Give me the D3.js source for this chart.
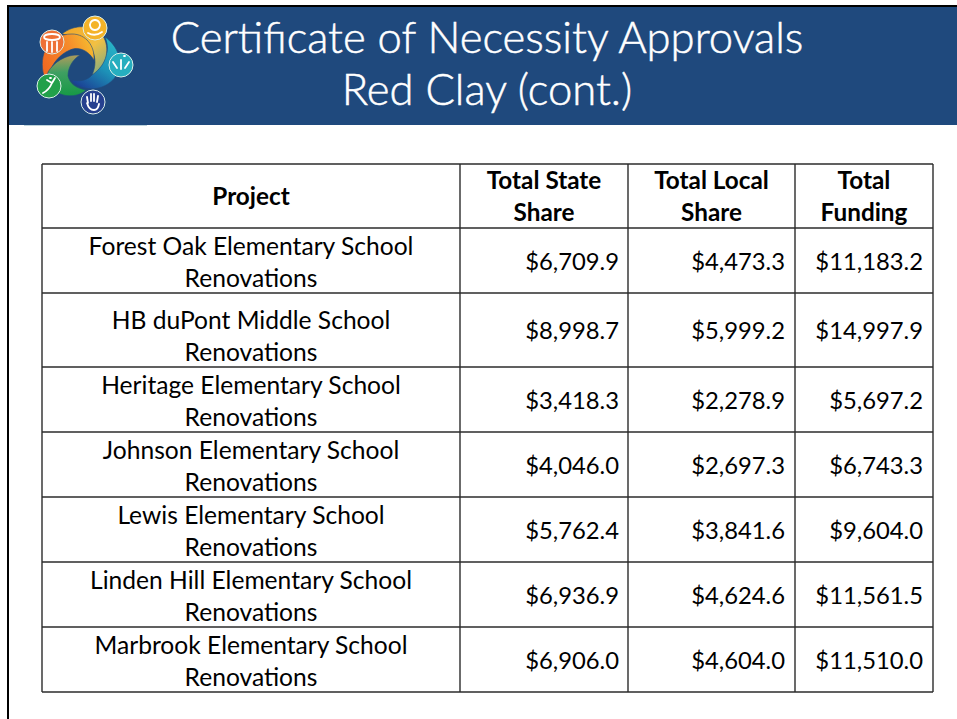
<!DOCTYPE html>
<html>
<head>
<meta charset="utf-8">
<title>Certificate of Necessity Approvals</title>
<script src="https://cdn.jsdelivr.net/npm/d3@7"></script>
<style>
html, body { margin: 0; padding: 0; background: #fff; }
svg { display: block; }
text { font-family: Lato, "Open Sans", sans-serif; fill: #000; }
</style>
</head>
<body>
<svg id="viz"></svg>
<script>
var width = 957;
var height = 719;

var titleLines = ["Certificate of Necessity Approvals", "Red Clay (cont.)"];
var headers = [["Project"], ["Total State", "Share"], ["Total Local", "Share"], ["Total", "Funding"]];
var projects = [
    ["Forest Oak Elementary School", "Renovations"],
    ["HB duPont Middle School", "Renovations"],
    ["Heritage Elementary School", "Renovations"],
    ["Johnson Elementary School", "Renovations"],
    ["Lewis Elementary School", "Renovations"],
    ["Linden Hill Elementary School", "Renovations"],
    ["Marbrook Elementary School", "Renovations"]
];
var stateShare = [6709.9, 8998.7, 3418.3, 4046.0, 5762.4, 6936.9, 6906.0];
var localShare = [4473.3, 5999.2, 2278.9, 2697.3, 3841.6, 4624.6, 4604.0];
var totalFunding = [11183.2, 14997.9, 5697.2, 6743.3, 9604.0, 11561.5, 11510.0];

var money = d3.format("$,.1f");

// table grid edges
var colX = d3.scaleOrdinal().domain([0, 1, 2, 3, 4]).range([42, 460, 628, 795, 933]);
var rowY = d3.scaleOrdinal().domain(d3.range(9)).range([164, 228, 293, 367, 432, 497, 562, 627, 692]);

var svg = d3.select("#viz").attr("width", width).attr("height", height);
var defs = svg.append("defs");

function addGradient(id, x1, y1, x2, y2, stops) {
    var g = defs.append("linearGradient").attr("id", id)
        .attr("gradientUnits", "userSpaceOnUse")
        .attr("x1", x1).attr("y1", y1).attr("x2", x2).attr("y2", y2);
    stops.forEach(function(s) {
        g.append("stop").attr("offset", s[0]).attr("stop-color", s[1]);
    });
}
addGradient("gOrange", 45, 70, 92, 50, [[0, "#f26a22"], [0.6, "#f58a2b"], [1, "#f6b52e"]]);
addGradient("gYellow", 65, 30, 98, 72, [[0, "#f3a92a"], [0.55, "#f2c043"], [1, "#8fae7a"]]);
addGradient("gTeal", 112, 40, 80, 88, [[0, "#29b5c8"], [0.5, "#1d93b8"], [1, "#1b3f94"]]);
addGradient("gGreen", 70, 52, 72, 96, [[0, "#c69a5a"], [0.45, "#3f9f62"], [1, "#169a45"]]);

// slide frame and header band
svg.append("rect").attr("x", 7).attr("y", 5).attr("width", width - 7).attr("height", height - 5).attr("fill", "#000");
svg.append("rect").attr("x", 9).attr("y", 7).attr("width", width - 9).attr("height", height - 7).attr("fill", "#fff");
svg.append("rect").attr("x", 9).attr("y", 7).attr("width", width - 9).attr("height", 118).attr("fill", "#1f497d");
svg.append("rect").attr("x", 24).attr("y", 125).attr("width", 123).attr("height", 1).attr("fill", "#bcd3dc");

svg.selectAll("text.title")
    .data(titleLines)
    .enter()
    .append("text")
    .attr("class", "title")
    .attr("x", 487)
    .attr("y", function(d, i) { return 53 + i * 52; })
    .attr("text-anchor", "middle")
    .attr("font-size", 43.6)
    .attr("font-weight", 300)
    .style("fill", "#fff")
    .style("stroke", "#fff")
    .style("stroke-width", 0.5)
    .text(function(d) { return d; });

// logo: swirl blades with round badges on top
var logo = svg.append("g");
var blades = [
    ["url(#gTeal)", "M105,37 C118,46 124,62 116,76 C108,88 92,92 78,86 C74,84 72,82 72,80 C80,82 88,80 92,75 C100,68 104,60 107,52 C108,46 107,42 105,37 Z"],
    ["url(#gYellow)", "M62,34 C74,24 92,24 103,36 C110,48 108,64 92,75 C96,66 96,58 92,50 C86,42 74,36 62,34 Z"],
    ["url(#gOrange)", "M44,76 C38,55 48,34 72,34 C86,34 95,46 94,60 C88,50 78,46 70,50 C60,54 52,64 50,72 Z"],
    ["url(#gGreen)", "M48,72 C54,62 66,54 80,55 C72,60 68,68 68,76 C70,84 76,88 86,90 C80,96 68,98 58,93 C50,88 47,80 48,72 Z"]
];
logo.selectAll("path.blade")
    .data(blades)
    .enter()
    .append("path")
    .attr("class", "blade")
    .attr("d", function(d) { return d[1]; })
    .attr("fill", function(d) { return d[0]; })
    .attr("stroke", "#1f497d")
    .attr("stroke-width", 0.6);

var badges = [
    [52, 42, "#ee7035", "M44,37 a8,3 0 0 1 16,0 a8,3 0 0 1 -16,0 M47,42 v9 M52,42 v10 M57,42 v9"],
    [95, 28, "#f4b328", "M95,20 a5,5 0 1 1 -0.1,0 M88,33 q7,4 14,-1"],
    [121, 65, "#26aebf", "M113,62 l4,6 M121,60 v9 M129,62 l-4,6 M124,56 h1"],
    [93, 102, "#26408f", "M88,103 l-1,-6 M91,101 v-7 M94,101 v-7 M97,102 l1,-6 M87,103 q2,7 7,7 q4,0 5,-6"],
    [49, 86, "#22a04a", "M43,93 q6,-3 9,-10 M50,78 h1 M52,83 l3,-5 M52,83 l-5,-3"]
];
logo.selectAll("circle.badge")
    .data(badges)
    .enter()
    .append("circle")
    .attr("class", "badge")
    .attr("cx", function(d) { return d[0]; })
    .attr("cy", function(d) { return d[1]; })
    .attr("r", 12)
    .attr("fill", function(d) { return d[2]; })
    .attr("stroke", "#dcefe9")
    .attr("stroke-width", 1);
logo.selectAll("path.glyph")
    .data(badges)
    .enter()
    .append("path")
    .attr("class", "glyph")
    .attr("d", function(d) { return d[3]; })
    .attr("fill", "none")
    .attr("stroke", "#fff")
    .attr("stroke-width", 1.8)
    .attr("stroke-linecap", "round");

// grid
var grid = svg.append("g").attr("stroke", "#2b2b2b").attr("stroke-width", 1.4);
grid.selectAll("line.v")
    .data(colX.domain())
    .enter()
    .append("line")
    .attr("class", "v")
    .attr("x1", function(d) { return colX(d); })
    .attr("x2", function(d) { return colX(d); })
    .attr("y1", rowY(0))
    .attr("y2", rowY(8));
grid.selectAll("line.h")
    .data(rowY.domain())
    .enter()
    .append("line")
    .attr("class", "h")
    .attr("y1", function(d) { return rowY(d); })
    .attr("y2", function(d) { return rowY(d); })
    .attr("x1", colX(0))
    .attr("x2", colX(4));

// header cells
var lineGap = 32;
headers.forEach(function(lines, c) {
    var cx = (colX(c) + colX(c + 1)) / 2;
    var cy = (rowY(0) + rowY(1)) / 2 + 9;
    svg.selectAll("text.head" + c)
        .data(lines)
        .enter()
        .append("text")
        .attr("class", "head" + c)
        .attr("x", cx)
        .attr("y", function(d, i) { return cy + (i - (lines.length - 1) / 2) * lineGap; })
        .attr("text-anchor", "middle")
        .attr("font-size", 24.3)
        .attr("font-weight", 700)
        .text(function(d) { return d; });
});

// project names sit on the bottom of their row (HB duPont row is taller)
projects.forEach(function(lines, r) {
    svg.selectAll("text.proj" + r)
        .data(lines)
        .enter()
        .append("text")
        .attr("class", "proj" + r)
        .attr("x", (colX(0) + colX(1)) / 2)
        .attr("y", function(d, i) { return rowY(r + 2) - 6.5 - (lines.length - 1 - i) * lineGap; })
        .attr("text-anchor", "middle")
        .attr("font-size", 24.6)
        .text(function(d) { return d; });
});

// money columns
[stateShare, localShare, totalFunding].forEach(function(values, c) {
    svg.selectAll("text.val" + c)
        .data(values)
        .enter()
        .append("text")
        .attr("class", "val" + c)
        .attr("x", colX(c + 2) - (c == 0 ? 9 : 10))
        .attr("y", function(d, r) { return (rowY(r + 1) + rowY(r + 2)) / 2 + 9; })
        .attr("text-anchor", "end")
        .attr("font-size", 23.8)
        .text(function(d) { return money(d); });
});
</script>
</body>
</html>
